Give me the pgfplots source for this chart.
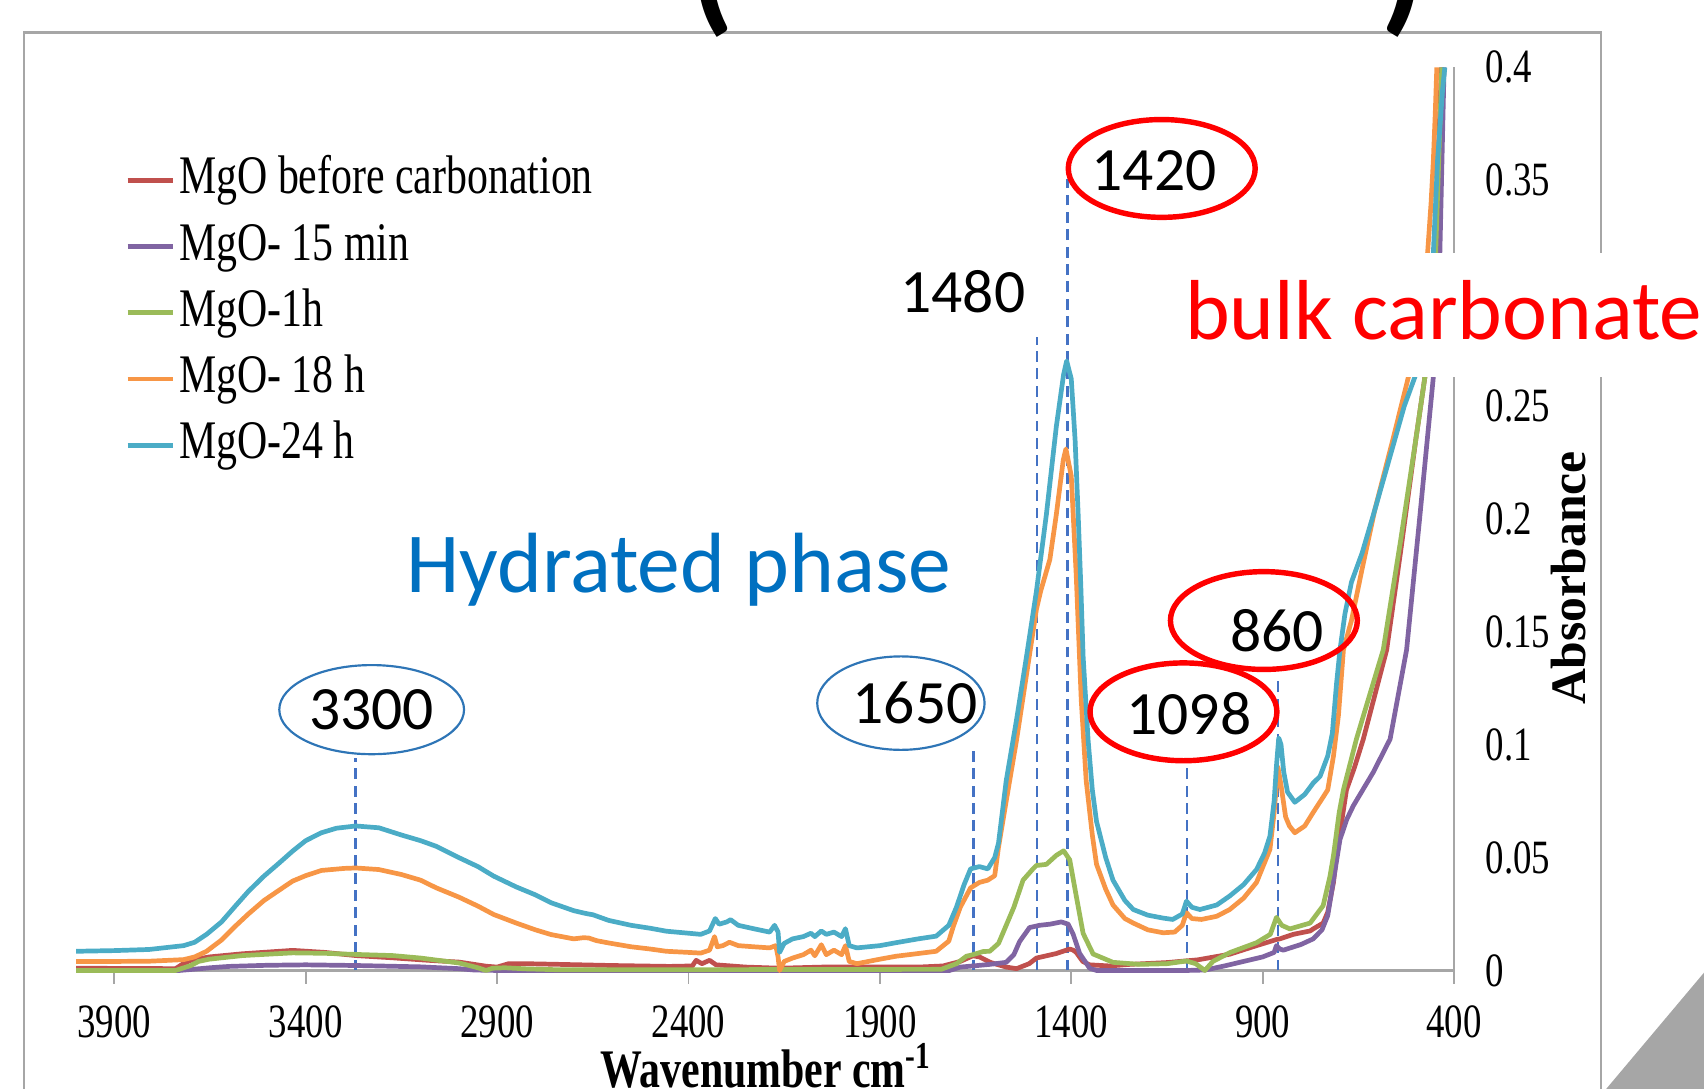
\documentclass[border=0pt]{standalone}
\usepackage{fontspec}
\setmainfont{Liberation Serif}
\newfontfamily\narrowserif[FakeStretch=0.77]{Liberation Serif}
\newfontfamily\calibri{Carlito}
\usepackage{pgfplots}
\pgfplotsset{compat=1.18}
\definecolor{cRed}{HTML}{C0504D}
\definecolor{cPurple}{HTML}{8064A2}
\definecolor{cGreen}{HTML}{9BBB59}
\definecolor{cOrange}{HTML}{F79646}
\definecolor{cCyan}{HTML}{4BACC6}
\definecolor{axgray}{HTML}{A6A6A6}
\definecolor{dashblue}{HTML}{4472C4}
\definecolor{ellblue}{HTML}{2E75B6}
\definecolor{hydblue}{HTML}{0070C0}
\begin{document}
\begin{tikzpicture}[x=1pt,y=1pt]
\useasboundingbox (0,0) rectangle (470.4,300.6);
\draw[axgray, line width=0.7pt] (6.6,-5) rectangle (441.9,291.6);
\begin{axis}[
  at={(21pt,32.7pt)}, anchor=south west,
  scale only axis, width=380.4pt, height=249.3pt,
  x dir=reverse, xmin=400, xmax=4000, ymin=0, ymax=0.4,
  clip=false,
  axis line style={draw=none},
  xtick={400,900,...,3900},
  ytick={0,0.05,0.1,0.15,0.2,0.25,0.3,0.35,0.4},
  xtick pos=bottom, yticklabel pos=right,
  tick align=outside,
  major tick length=3.6pt,
  xtick style={draw=axgray, line width=0.5pt},
  ytick style={draw=none},
  /pgf/number format/fixed, /pgf/number format/precision=2,
  /pgf/number format/1000 sep={}, /pgf/number format/assume math mode=true,
  ticklabel style={font=\narrowserif\fontsize{13.2}{15}\selectfont, text=black},
  xticklabel style={yshift=-2.5pt},
  yticklabel style={anchor=west, xshift=1.6pt},
  legend style={at={(axis description cs:0.0352,0.909)}, anchor=north west,
    draw=none, fill=none, inner sep=0pt, row sep=1.8pt,
    font=\narrowserif\fontsize{15}{18}\selectfont,
    nodes={inner sep=1pt, text height=11pt, text depth=3.5pt},
    /tikz/every even column/.append style={column sep=0pt}},
  legend cell align=left,
  legend image code/.code={\draw[#1, line width=1.3pt] (0pt,0pt) -- (12.6pt,0pt);},
  every axis plot/.append style={line width=1.3pt, line join=round},
]
\draw[axgray, line width=0.6pt] (axis cs:4000,0) -- (axis cs:400,0) -- (axis cs:400,0.4);
% dashed marker lines
\draw[dashblue, line width=0.7pt, dash pattern=on 3pt off 1.8pt] (axis cs:3270,0) -- (axis cs:3270,0.0943);
\draw[dashblue, line width=0.7pt, dash pattern=on 3pt off 1.8pt] (axis cs:1655,0) -- (axis cs:1655,0.0987);
\draw[dashblue, line width=0.7pt, dash pattern=on 3pt off 1.8pt] (axis cs:1490,0) -- (axis cs:1490,0.2806);
\draw[dashblue, line width=0.7pt, dash pattern=on 3pt off 1.8pt] (axis cs:1410,0) -- (axis cs:1410,0.3504);
\draw[dashblue, line width=0.7pt, dash pattern=on 3pt off 1.8pt] (axis cs:1098,0) -- (axis cs:1098,0.0915);
\draw[dashblue, line width=0.7pt, dash pattern=on 3pt off 1.8pt] (axis cs:860,0) -- (axis cs:860,0.128);
% MgO before carbonation
\addplot[cRed] coordinates {
(4000,0.0010) (3740,0.0008) (3720,0.0030) (3700,0.0045) (3652,0.0060) (3565,0.0074)
(3434,0.0089) (3350,0.0080) (3269,0.0066) (3173,0.0056) (3080,0.0045) (2999,0.0037)
(2929,0.0019) (2900,0.0015) (2870,0.0030) (2824,0.0030) (2737,0.0027) (2600,0.0022)
(2450,0.0018) (2390,0.0020) (2380,0.0045) (2365,0.0030) (2345,0.0045) (2328,0.0025)
(2250,0.0015) (2162,0.0010) (2050,0.0015) (1950,0.0015) (1800,0.0015) (1735,0.0020)
(1690,0.0040) (1657,0.0065) (1640,0.0060) (1610,0.0035) (1570,0.0015) (1543,0.0008)
(1510,0.0030) (1491,0.0055) (1439,0.0075) (1404,0.0095) (1395,0.0090) (1387,0.0080)
(1370,0.0040) (1352,0.0025) (1300,0.0020) (1247,0.0027) (1150,0.0035) (1070,0.0047)
(986,0.0072) (916,0.0110) (864,0.0137) (855,0.0140) (820,0.0160) (776,0.0175)
(768,0.0184) (742,0.0210) (730,0.0258) (715,0.0390) (707,0.0509) (681,0.0800)
(660,0.0900) (637,0.1025) (576,0.1420) (540,0.1850) (500,0.2350) (476,0.2630)
(450,0.3180) (433,0.4000)
};
\addlegendentry{MgO before carbonation}
% MgO- 15 min
\addplot[cPurple] coordinates {
(4000,0.0000) (3730,0.0000) (3696,0.0005) (3650,0.0012) (3600,0.0018) (3500,0.0023)
(3400,0.0025) (3269,0.0022) (3100,0.0016) (3000,0.0008) (2960,0.0002) (2900,0.0000)
(1718,0.0000) (1690,0.0015) (1657,0.0020) (1613,0.0027) (1570,0.0036) (1550,0.0070)
(1535,0.0128) (1509,0.0190) (1483,0.0200) (1456,0.0205) (1426,0.0215) (1408,0.0205)
(1395,0.0160) (1378,0.0075) (1352,0.0010) (1334,0.0000) (1100,0.0000) (1050,0.0002)
(1000,0.0020) (950,0.0040) (900,0.0060) (870,0.0080) (864,0.0110) (855,0.0095)
(846,0.0090) (800,0.0115) (768,0.0140) (745,0.0180) (730,0.0243) (715,0.0400)
(698,0.0580) (680,0.0670) (663,0.0730) (611,0.0878) (567,0.1025) (524,0.1420)
(490,0.2000) (454,0.2630) (437,0.3180) (426,0.4000)
};
\addlegendentry{MgO- 15 min}
% MgO-1h
\addplot[cGreen] coordinates {
(4000,0.0000) (3740,0.0000) (3700,0.0022) (3680,0.0040) (3652,0.0050) (3565,0.0066)
(3500,0.0072) (3434,0.0078) (3350,0.0076) (3269,0.0071) (3173,0.0066) (3100,0.0055)
(2999,0.0033) (2950,0.0012) (2929,0.0000) (2912,0.0010) (2880,0.0012) (2824,0.0007)
(2737,0.0003) (2600,0.0003) (1740,0.0005) (1700,0.0030) (1674,0.0063) (1657,0.0070)
(1630,0.0084) (1613,0.0085) (1590,0.0120) (1570,0.0200) (1550,0.0280) (1526,0.0400)
(1500,0.0450) (1491,0.0465) (1465,0.0470) (1439,0.0510) (1420,0.0530) (1404,0.0490)
(1387,0.0330) (1369,0.0164) (1343,0.0073) (1291,0.0036) (1221,0.0027) (1150,0.0030)
(1099,0.0042) (1075,0.0030) (1051,0.0000) (1030,0.0040) (986,0.0079) (916,0.0123)
(880,0.0160) (864,0.0235) (850,0.0200) (829,0.0184) (776,0.0210) (742,0.0287)
(724,0.0418) (715,0.0509) (700,0.0700) (689,0.0800) (655,0.1025) (637,0.1127)
(585,0.1420) (540,0.1900) (500,0.2350) (476,0.2630) (448,0.3180) (432,0.4000)
};
\addlegendentry{MgO-1h}
% MgO- 18 h
\addplot[cOrange] coordinates {
(4000,0.0040) (3900,0.0040) (3809,0.0041) (3719,0.0048) (3690,0.0060) (3659,0.0085)
(3620,0.0135) (3584,0.0196) (3550,0.0250) (3509,0.0310) (3470,0.0355) (3434,0.0396)
(3400,0.0420) (3359,0.0443) (3300,0.0452) (3269,0.0454) (3209,0.0447) (3150,0.0425)
(3100,0.0400) (3059,0.0366) (3000,0.0325) (2950,0.0285) (2909,0.0248) (2850,0.0210)
(2800,0.0180) (2759,0.0159) (2700,0.0140) (2675,0.0145) (2661,0.0144) (2640,0.0132)
(2609,0.0122) (2550,0.0105) (2500,0.0095) (2458,0.0085) (2400,0.0080) (2368,0.0077)
(2345,0.0090) (2332,0.0150) (2325,0.0105) (2310,0.0110) (2293,0.0125) (2270,0.0110)
(2230,0.0105) (2188,0.0100) (2172,0.0110) (2166,0.0060) (2162,0.0000) (2150,0.0040)
(2128,0.0055) (2100,0.0070) (2080,0.0090) (2070,0.0065) (2053,0.0114) (2040,0.0070)
(2020,0.0090) (2000,0.0070) (1990,0.0110) (1980,0.0040) (1960,0.0030) (1900,0.0050)
(1858,0.0063) (1800,0.0075) (1753,0.0085) (1720,0.0130) (1708,0.0196) (1690,0.0280)
(1663,0.0366) (1640,0.0390) (1618,0.0400) (1600,0.0420) (1590,0.0547) (1570,0.0750)
(1543,0.1020) (1517,0.1310) (1491,0.1600) (1480,0.1680) (1456,0.1820) (1439,0.2020)
(1421,0.2260) (1414,0.2310) (1400,0.2190) (1387,0.1750) (1374,0.1200) (1361,0.0840)
(1345,0.0600) (1334,0.0470) (1310,0.0360) (1291,0.0290) (1260,0.0230) (1238,0.0210)
(1200,0.0180) (1160,0.0167) (1130,0.0170) (1110,0.0200) (1099,0.0256) (1085,0.0230)
(1060,0.0226) (1020,0.0240) (986,0.0270) (950,0.0320) (916,0.0390) (881,0.0536)
(870,0.0700) (860,0.0900) (852,0.0820) (840,0.0680) (830,0.0640) (816,0.0610)
(790,0.0640) (768,0.0700) (745,0.0760) (730,0.0800) (715,0.0950) (702,0.1130)
(689,0.1420) (668,0.1550) (640,0.1780) (607,0.2040) (560,0.2350) (519,0.2630)
(490,0.2900) (469,0.3180) (460,0.3400) (454,0.3590) (449,0.3800) (445,0.4000)
};
\addlegendentry{MgO- 18 h}
% MgO-24 h
\addplot[cCyan] coordinates {
(4000,0.0085) (3900,0.0088) (3809,0.0093) (3719,0.0110) (3690,0.0125) (3659,0.0160)
(3620,0.0215) (3584,0.0285) (3550,0.0350) (3509,0.0418) (3470,0.0475) (3434,0.0529)
(3400,0.0575) (3359,0.0610) (3320,0.0630) (3269,0.0640) (3209,0.0632) (3150,0.0600)
(3100,0.0575) (3059,0.0550) (3000,0.0500) (2950,0.0460) (2909,0.0418) (2850,0.0370)
(2800,0.0335) (2759,0.0300) (2700,0.0265) (2675,0.0255) (2661,0.0250) (2650,0.0247)
(2609,0.0222) (2550,0.0200) (2500,0.0187) (2458,0.0174) (2400,0.0165) (2368,0.0160)
(2345,0.0175) (2330,0.0230) (2320,0.0205) (2300,0.0215) (2290,0.0225) (2270,0.0200)
(2230,0.0185) (2188,0.0170) (2175,0.0200) (2166,0.0170) (2162,0.0080) (2150,0.0120)
(2128,0.0140) (2100,0.0150) (2080,0.0165) (2070,0.0150) (2053,0.0175) (2040,0.0160)
(2020,0.0170) (2000,0.0150) (1990,0.0185) (1980,0.0110) (1960,0.0100) (1900,0.0110)
(1858,0.0123) (1800,0.0140) (1753,0.0152) (1720,0.0200) (1700,0.0280) (1680,0.0380)
(1663,0.0450) (1640,0.0460) (1618,0.0450) (1600,0.0500) (1590,0.0565) (1570,0.0840)
(1543,0.1110) (1517,0.1390) (1491,0.1680) (1465,0.2020) (1439,0.2410) (1420,0.2640)
(1412,0.2700) (1400,0.2620) (1390,0.2350) (1382,0.2020) (1375,0.1700) (1369,0.1390)
(1356,0.1020) (1345,0.0800) (1334,0.0660) (1310,0.0500) (1291,0.0400) (1260,0.0310)
(1238,0.0270) (1200,0.0245) (1160,0.0232) (1135,0.0226) (1110,0.0250) (1099,0.0307)
(1085,0.0280) (1064,0.0270) (1020,0.0290) (986,0.0330) (950,0.0380) (916,0.0447)
(895,0.0520) (881,0.0595) (870,0.0750) (864,0.0905) (858,0.1030) (852,0.1000)
(845,0.0880) (835,0.0790) (816,0.0745) (790,0.0780) (768,0.0830) (750,0.0860)
(730,0.0950) (718,0.1050) (707,0.1270) (698,0.1420) (685,0.1580) (668,0.1720)
(640,0.1850) (607,0.2040) (560,0.2320) (530,0.2500) (502,0.2630) (470,0.2900)
(454,0.3180) (443,0.3590) (430,0.3900) (424,0.4000)
};
\addlegendentry{MgO-24 h}
\end{axis}
% white box with "bulk carbonate"
\fill[white] (323,196.5) rectangle (470.4,230.7);
\node[anchor=base west, inner sep=0pt, text=red, font=\calibri\fontsize{23.5}{26}\selectfont] at (327,207) {bulk carbonate};
\node[anchor=base west, inner sep=0pt, text=hydblue, font=\calibri\fontsize{23.6}{26}\selectfont] at (111.9,137.1) {Hydrated phase};
% y axis title
\node[rotate=90, inner sep=0pt, font=\bfseries\fontsize{13.7}{16}\selectfont] at (433,141) {Absorbance};
% x axis title
\node[anchor=base, inner sep=0pt, font=\narrowserif\bfseries\fontsize{15}{18}\selectfont] at (211.5,0.3) {Wavenumber cm\textsuperscript{-1}};
% ellipses and labels
\draw[ellblue, line width=0.6pt] (102.6,104.7) ellipse [x radius=25.5, y radius=12.3];
\node[font=\calibri\fontsize{17}{20}\selectfont] at (102.6,104.7) {3300};
\draw[ellblue, line width=0.6pt] (248.7,106.5) ellipse [x radius=23.1, y radius=12.9];
\node[font=\calibri\fontsize{17}{20}\selectfont] at (252.6,106.5) {1650};
\node[font=\calibri\fontsize{17}{20}\selectfont] at (265.8,220.2) {1480};
\draw[red, line width=1.5pt] (320.7,254.1) ellipse [x radius=25.8, y radius=13.5];
\node[font=\calibri\fontsize{17}{20}\selectfont] at (318.6,253.5) {1420};
\draw[red, line width=1.5pt] (348.9,129.3) ellipse [x radius=25.8, y radius=13.5];
\node[font=\calibri\fontsize{17}{20}\selectfont] at (352.5,126.6) {860};
\draw[red, line width=1.5pt, fill=white] (326.7,104.1) ellipse [x radius=25.8, y radius=13.5];
\node[font=\calibri\fontsize{17}{20}\selectfont] at (328.2,103.5) {1098};
% slide decoration
\fill[axgray] (443.4,0) -- (470.4,0) -- (470.4,32.1) -- cycle;
% title remnants (cut off at top)
\node[anchor=base, inner sep=0pt, font=\calibri\bfseries\fontsize{40}{44}\selectfont] at (196.5,296.3) {(};
\node[anchor=base, inner sep=0pt, font=\calibri\bfseries\fontsize{40}{44}\selectfont] at (387.3,296.3) {)};
\end{tikzpicture}
\end{document}
